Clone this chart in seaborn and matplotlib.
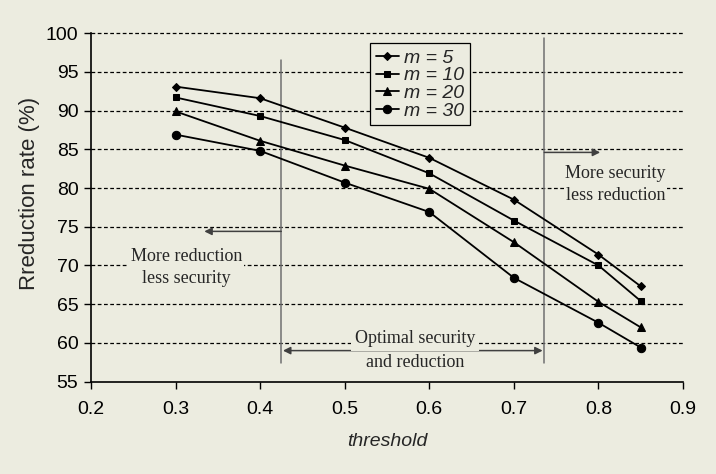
import matplotlib
matplotlib.use("Agg")
import matplotlib.pyplot as plt
import seaborn as sns
import pandas as pd

# thresholds on the x axis
thresholds = [0.3, 0.4, 0.5, 0.6, 0.7, 0.8, 0.85]

# reduction rate (%) per window size m
m5 = [93.1, 91.6, 87.8, 83.9, 78.5, 71.4, 67.3]
m10 = [91.7, 89.3, 86.2, 81.9, 75.8, 70.0, 65.4]
m20 = [89.9, 86.1, 82.9, 79.9, 73.0, 65.3, 62.0]
m30 = [86.9, 84.8, 80.7, 76.9, 68.4, 62.6, 59.4]

series_names = ["m = 5", "m = 10", "m = 20", "m = 30"]
series_values = [m5, m10, m20, m30]
markers = ["D", "s", "^", "o"]
marker_sizes = [4.5, 4.5, 6, 6]

x_ticks = [0.2, 0.3, 0.4, 0.5, 0.6, 0.7, 0.8, 0.9]
y_ticks = [55, 60, 65, 70, 75, 80, 85, 90, 95, 100]

BG = "#ECECE0"

sns.set_style("ticks")
plt.rcParams["font.family"] = ["Liberation Sans", "DejaVu Sans"]

fig = plt.figure(figsize=(7.16, 4.74), dpi=100, facecolor=BG)
ax = fig.add_axes([0.127, 0.195, 0.827, 0.735])
ax.set_facecolor(BG)

rows = []
for name, vals in zip(series_names, series_values):
    for t, v in zip(thresholds, vals):
        rows.append({"threshold": t, "rate": v, "series": name})
df = pd.DataFrame(rows)

for name, mk, ms in zip(series_names, markers, marker_sizes):
    sub = df[df["series"] == name]
    sns.lineplot(data=sub, x="threshold", y="rate", ax=ax, color="black",
                 lw=1.3, marker=mk, markersize=ms, markeredgecolor="black",
                 label=name, zorder=5)

# dashed horizontal grid
for yv in y_ticks[1:]:
    ax.axhline(yv, color="black", lw=0.9, ls=(0, (3, 2)), zorder=1, clip_on=False)

ax.set_xlim(0.2, 0.9)
ax.set_ylim(55, 100)
ax.set_xticks(x_ticks)
ax.set_xticklabels([f"{v:.1f}" for v in x_ticks])
ax.set_yticks(y_ticks)
ax.tick_params(axis="both", direction="out", length=5, width=1, color="black",
               labelsize=14, labelcolor="black")
ax.tick_params(axis="x", pad=9)
ax.tick_params(axis="y", pad=4)
for side in ["top", "right"]:
    ax.spines[side].set_visible(False)
for side in ["left", "bottom"]:
    ax.spines[side].set_color("black")
    ax.spines[side].set_linewidth(1.2)

ax.set_xlabel("threshold", fontsize=14, fontstyle="italic", labelpad=11)
ax.set_ylabel("Rreduction rate (%)", fontsize=16)
ax.yaxis.set_label_coords(-0.086, 0.54)

# region boundaries
ax.plot([0.425, 0.425], [57.4, 96.6], color="#707070", lw=1.1, zorder=3)
ax.plot([0.736, 0.736], [57.4, 99.4], color="#707070", lw=1.1, zorder=3)

arrow_kw = dict(color="#404040", lw=1.1, shrinkA=0, shrinkB=0, mutation_scale=11)
ax.annotate("", xy=(0.334, 74.4), xytext=(0.425, 74.4),
            arrowprops=dict(arrowstyle="-|>", **arrow_kw), zorder=4)
ax.annotate("", xy=(0.802, 84.6), xytext=(0.736, 84.6),
            arrowprops=dict(arrowstyle="-|>", **arrow_kw), zorder=4)
ax.annotate("", xy=(0.427, 59.0), xytext=(0.734, 59.0),
            arrowprops=dict(arrowstyle="<|-|>", **arrow_kw), zorder=4)

serif = ["Liberation Serif", "DejaVu Serif"]
box = dict(facecolor=BG, edgecolor="none", pad=1)
ax.text(0.313, 69.7, "More reduction\nless security", ha="center", va="center",
        fontsize=13, family=serif, linespacing=1.4, bbox=box, zorder=4)
ax.text(0.82, 80.5, "More security\nless reduction", ha="center", va="center",
        fontsize=13, family=serif, linespacing=1.4, bbox=box, zorder=4)
ax.text(0.583, 60.6, "Optimal security", ha="center", va="center",
        fontsize=13, family=serif, bbox=dict(facecolor=BG, edgecolor="none", pad=3), zorder=4)
ax.text(0.583, 57.5, "and reduction", ha="center", va="center",
        fontsize=13, family=serif, zorder=4)

leg = ax.legend(loc="upper left", bbox_to_anchor=(0.472, 0.971), frameon=True,
                fancybox=False, edgecolor="black", facecolor=BG, framealpha=1,
                prop={"size": 14, "style": "italic"}, handlelength=1.15,
                handletextpad=0.3, labelspacing=0.0, borderpad=0.3,
                borderaxespad=0)
leg.get_frame().set_linewidth(0.9)
leg.set_zorder(6)

fig.savefig("out.png", dpi=100, facecolor=BG)
